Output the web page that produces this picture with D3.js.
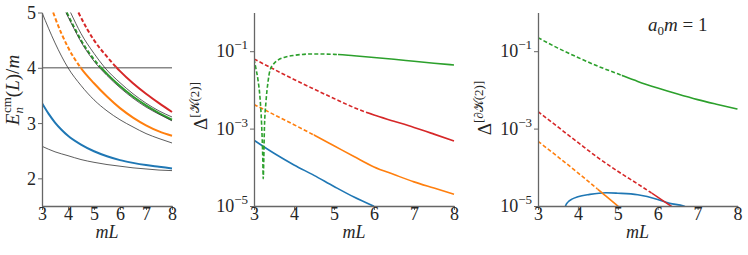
<!DOCTYPE html>
<html>
<head>
<meta charset="utf-8">
<script src="https://cdn.jsdelivr.net/npm/d3@7"></script>
<style>
    body { margin: 0; background: #fff; }
    svg text { font-family: "Liberation Serif", "DejaVu Serif", serif; fill: #262626; }
</style>
</head>
<body>
<svg id="chart" width="748" height="255"></svg>
<script>
// ---- data ----
const mLTicks = [3, 4, 5, 6, 7, 8];
const energyTicks = [2, 3, 4, 5];
const deltaTicks = [1e-1, 1e-3, 1e-5];
const thresholdEnergy = 4;

// mL where each level drops below threshold (dashed before, solid after)
const switchOrange = 4.49;
const switchGreen = 5.1;
const switchRed = 5.85;

// left panel: E_n^cm(L)/m
const energyBlue = [[3, 3.36], [3.25, 3.17], [3.5, 3.01], [3.75, 2.88], [4, 2.77], [4.5, 2.61], [5, 2.49], [5.5, 2.40], [6, 2.33], [6.5, 2.28], [7, 2.24], [7.5, 2.21], [8, 2.18]];
const energyOrange = [[3.43, 5.0], [3.5, 4.91], [4, 4.37], [4.49, 4.0], [5, 3.72], [5.5, 3.48], [6, 3.27], [6.5, 3.10], [7, 2.96], [7.5, 2.85], [8, 2.77]];
const energyGreen = [[3.95, 5.0], [4.25, 4.72], [4.5, 4.50], [5, 4.15], [5.5, 3.89], [6, 3.67], [6.5, 3.48], [7, 3.32], [7.5, 3.18], [8, 3.06]];
const energyRed = [[4.40, 5.0], [4.75, 4.69], [5, 4.50], [5.5, 4.20], [6, 3.94], [6.5, 3.72], [7, 3.53], [7.5, 3.36], [8, 3.20]];
const freeLevel0 = [[3, 2.58], [3.5, 2.48], [4, 2.41], [4.5, 2.34], [5, 2.29], [5.5, 2.25], [6, 2.22], [6.5, 2.19], [7, 2.17], [7.5, 2.15], [8, 2.14]];
const freeLevel1 = [[3, 5.0], [3.5, 4.45], [4, 4.0], [4.5, 3.68], [5, 3.42], [5.5, 3.22], [6, 3.06], [6.5, 2.93], [7, 2.81], [7.5, 2.72], [8, 2.64]];
const freeLevel2 = [[3.92, 5.0], [4.25, 4.69], [4.5, 4.47], [5, 4.12], [5.5, 3.86], [6, 3.64], [6.5, 3.45], [7, 3.29], [7.5, 3.16], [8, 3.04]];
const freeLevel3 = [[4.10, 5.0], [4.5, 4.62], [5, 4.26], [5.42, 4.0], [6, 3.73], [6.5, 3.53], [7, 3.36], [7.5, 3.22], [8, 3.11]];

// middle panel: Delta^[K(2)]
const deltaKBlue = [[3, 5.0e-4], [3.5, 2.3e-4], [4, 1.15e-4], [4.5, 6.2e-5], [5, 3.2e-5], [5.5, 1.7e-5], [6, 9.8e-6]];
const deltaKOrange = [[3, 4.2e-3], [3.5, 2.3e-3], [4, 1.26e-3], [4.5, 6.8e-4], [5, 3.6e-4], [5.5, 1.9e-4], [6, 1.02e-4], [6.5, 6.5e-5], [7, 4.2e-5], [7.5, 2.9e-5], [8, 2.0e-5]];
const deltaKGreen = [[3, 6.2e-2], [3.05, 3.5e-2], [3.1, 1.8e-2], [3.15, 6.3e-3], [3.19, 1.3e-3], [3.22, 1.6e-4], [3.23, 5.1e-5], [3.245, 1.6e-4], [3.26, 1.0e-3], [3.3, 5.0e-3], [3.35, 1.6e-2], [3.4, 3.2e-2], [3.5, 4.8e-2], [3.6, 5.9e-2], [3.75, 6.9e-2], [4, 7.8e-2], [4.5, 8.5e-2], [5, 8.3e-2], [5.5, 7.6e-2], [6, 6.9e-2], [6.5, 6.2e-2], [7, 5.5e-2], [7.5, 4.9e-2], [8, 4.4e-2]];
const deltaKRed = [[3, 6.3e-2], [3.5, 3.4e-2], [4, 1.86e-2], [4.5, 1.05e-2], [5, 6.0e-3], [5.5, 3.5e-3], [6, 2.24e-3], [6.5, 1.55e-3], [7, 1.07e-3], [7.5, 7.2e-4], [8, 4.8e-4]];

// right panel: Delta^[dK(2)]
const deltaDKBlue = [[3.66, 6.3e-6], [3.69, 1.0e-5], [3.75, 1.26e-5], [3.85, 1.5e-5], [4, 1.74e-5], [4.3, 2.0e-5], [4.7, 2.2e-5], [5, 2.14e-5], [5.5, 1.95e-5], [6, 1.48e-5], [6.3, 1.17e-5], [6.65, 1.0e-5], [6.8, 7.9e-6]];
const deltaDKOrange = [[3, 4.7e-4], [3.5, 1.86e-4], [4, 7.2e-5], [4.5, 2.7e-5], [5, 1.0e-5], [5.2, 6.8e-6]];
const deltaDKGreen = [[3, 0.224], [3.5, 0.120], [4, 6.9e-2], [4.5, 4.1e-2], [5, 2.6e-2], [5.5, 1.66e-2], [6, 1.12e-2], [6.5, 7.8e-3], [7, 5.6e-3], [7.5, 4.2e-3], [8, 3.2e-3]];
const deltaDKRed = [[3, 2.75e-3], [3.5, 1.10e-3], [4, 4.4e-4], [4.5, 1.78e-4], [5, 7.9e-5], [5.5, 3.7e-5], [6, 1.7e-5], [6.33, 1.0e-5], [6.5, 7.6e-6]];

const colors = { blue: '#1f77b4', orange: '#ff7f0e', green: '#2ca02c', red: '#d62728' };

const svg = d3.select('#chart');
const plotTop = 12.5, plotBottom = 206;
let clipCount = 0;

function makePanel(x0, x1, yScale) {
    const x = d3.scaleLinear().domain([3, 8]).range([x0, x1]);
    const g = svg.append('g');
    const id = 'clip' + (clipCount++);
    svg.append('clipPath').attr('id', id).append('rect')
        .attr('x', x0).attr('y', plotTop - 1).attr('width', x1 - x0 + 1).attr('height', plotBottom - plotTop + 1);
    const plot = g.append('g').attr('clip-path', `url(#${id})`);
    return { x, y: yScale, g, plot };
}

function styleAxis(sel) {
    sel.attr('font-size', 18).attr('font-family', null);
    sel.select('.domain').attr('stroke', '#666').attr('stroke-width', 1.3);
    sel.selectAll('.tick line').attr('stroke', '#666').attr('stroke-width', 1);
    sel.selectAll('text').attr('fill', '#262626');
}

function drawXAxis(p, cx) {
    const ax = p.g.append('g').attr('transform', `translate(0,${plotBottom})`)
        .call(d3.axisBottom(p.x).tickValues(mLTicks).tickSize(4).tickSizeOuter(0).tickFormat(d3.format('d')));
    styleAxis(ax);
    ax.selectAll('text').attr('y', 14).attr('dy', 0);
    p.g.append('text').attr('x', cx).attr('y', 238).attr('text-anchor', 'middle')
        .attr('font-size', 18).attr('font-style', 'italic').text('mL');
}

function drawLogYAxis(p, x0) {
    const ax = p.g.append('g').attr('transform', `translate(${x0},0)`)
        .call(d3.axisLeft(p.y).tickValues(deltaTicks).tickSize(4).tickSizeOuter(0));
    styleAxis(ax);
    ax.selectAll('text').each(function (d) {
        const t = d3.select(this);
        const e = Math.round(Math.log10(d));
        t.text(null).attr('x', -6).attr('dy', '0.32em');
        t.append('tspan').text('10');
        t.append('tspan').attr('dy', -8).attr('font-size', 13).text('\u2212' + Math.abs(e));
    });
}

function drawLine(p, data, color, opts = {}) {
    const line = d3.line().x(d => p.x(d[0])).y(d => p.y(d[1])).curve(d3.curveMonotoneX);
    const width = opts.width || 1.6;
    if (opts.switchAt === undefined) {
        p.plot.append('path').datum(data).attr('d', line)
            .attr('fill', 'none').attr('stroke', color).attr('stroke-width', width);
        return;
    }
    const xs = p.x(opts.switchAt);
    const idA = 'clip' + (clipCount++), idB = 'clip' + (clipCount++);
    svg.append('clipPath').attr('id', idA).append('rect')
        .attr('x', 0).attr('y', 0).attr('width', xs).attr('height', 255);
    svg.append('clipPath').attr('id', idB).append('rect')
        .attr('x', xs).attr('y', 0).attr('width', 748 - xs).attr('height', 255);
    p.plot.append('g').attr('clip-path', `url(#${idA})`)
        .append('path').datum(data).attr('d', line)
        .attr('fill', 'none').attr('stroke', color).attr('stroke-width', width)
        .attr('stroke-dasharray', '4,2.2');
    p.plot.append('g').attr('clip-path', `url(#${idB})`)
        .append('path').datum(data).attr('d', line)
        .attr('fill', 'none').attr('stroke', color).attr('stroke-width', width);
}

// ---- left panel ----
const p1 = makePanel(42, 172, d3.scaleLinear().domain([1.5, 5]).range([plotBottom, plotTop]));
p1.plot.append('line')
    .attr('x1', p1.x(3)).attr('x2', p1.x(8))
    .attr('y1', p1.y(thresholdEnergy)).attr('y2', p1.y(thresholdEnergy))
    .attr('stroke', '#888').attr('stroke-width', 1.6);
drawLine(p1, energyBlue, colors.blue, { width: 2 });
drawLine(p1, energyOrange, colors.orange, { width: 2, switchAt: switchOrange });
drawLine(p1, energyGreen, colors.green, { width: 2, switchAt: 5.25 });
drawLine(p1, energyRed, colors.red, { width: 2, switchAt: switchRed });
[freeLevel0, freeLevel1, freeLevel2, freeLevel3].forEach(d => drawLine(p1, d, '#333', { width: 0.8 }));

const ay1 = p1.g.append('g').attr('transform', 'translate(42,0)')
    .call(d3.axisLeft(p1.y).tickValues(energyTicks).tickSize(4).tickSizeOuter(0).tickFormat(d3.format('d')));
styleAxis(ay1);
ay1.selectAll('text').attr('x', -6).attr('dy', '0.34em');
drawXAxis(p1, 107);

const yl1 = p1.g.append('text').attr('transform', 'translate(19,90) rotate(-90)')
    .attr('text-anchor', 'middle').attr('font-size', 19);
yl1.append('tspan').attr('font-style', 'italic').text('E');
yl1.append('tspan').attr('font-style', 'italic').attr('font-size', 13).attr('dy', 4).text('n');
yl1.append('tspan').attr('font-size', 13).attr('dx', -6).attr('dy', -12).text('cm');
yl1.append('tspan').attr('dy', 8).text('(');
yl1.append('tspan').attr('font-style', 'italic').text('L');
yl1.append('tspan').text(')/');
yl1.append('tspan').attr('font-style', 'italic').text('m');

// ---- middle panel ----
const p2 = makePanel(254, 454, d3.scaleLog().domain([1e-5, 1]).range([plotBottom, plotTop]));
drawLine(p2, deltaKBlue, colors.blue);
drawLine(p2, deltaKOrange, colors.orange, { switchAt: switchOrange });
drawLine(p2, deltaKRed, colors.red, { switchAt: switchRed });
drawLine(p2, deltaKGreen, colors.green, { switchAt: switchGreen });
drawLogYAxis(p2, 254);
drawXAxis(p2, 354);

const yl2 = p2.g.append('text').attr('transform', 'translate(207,106) rotate(-90)')
    .attr('text-anchor', 'middle').attr('font-size', 19);
yl2.append('tspan').text('\u0394');
yl2.append('tspan').attr('font-size', 13).attr('dy', -8).text('[\uD835\uDCA6(2)]');

// ---- right panel ----
const p3 = makePanel(538, 737.5, d3.scaleLog().domain([1e-5, 1]).range([plotBottom, plotTop]));
drawLine(p3, deltaDKBlue, colors.blue);
drawLine(p3, deltaDKOrange, colors.orange, { switchAt: switchOrange });
drawLine(p3, deltaDKRed, colors.red, { switchAt: switchRed });
drawLine(p3, deltaDKGreen, colors.green, { switchAt: switchGreen });
drawLogYAxis(p3, 538);
drawXAxis(p3, 637.5);

const yl3 = p3.g.append('text').attr('transform', 'translate(491,108) rotate(-90)')
    .attr('text-anchor', 'middle').attr('font-size', 19);
yl3.append('tspan').text('\u0394');
yl3.append('tspan').attr('font-size', 13).attr('dy', -8).text('[\u2202\uD835\uDCA6(2)]');

const note = p3.g.append('text').attr('x', 648).attr('y', 31).attr('font-size', 19);
note.append('tspan').attr('font-style', 'italic').text('a');
note.append('tspan').attr('font-size', 13).attr('dy', 4).text('0');
note.append('tspan').attr('font-style', 'italic').attr('dy', -4).text('m');
note.append('tspan').text(' = 1');
</script>
</body>
</html>
